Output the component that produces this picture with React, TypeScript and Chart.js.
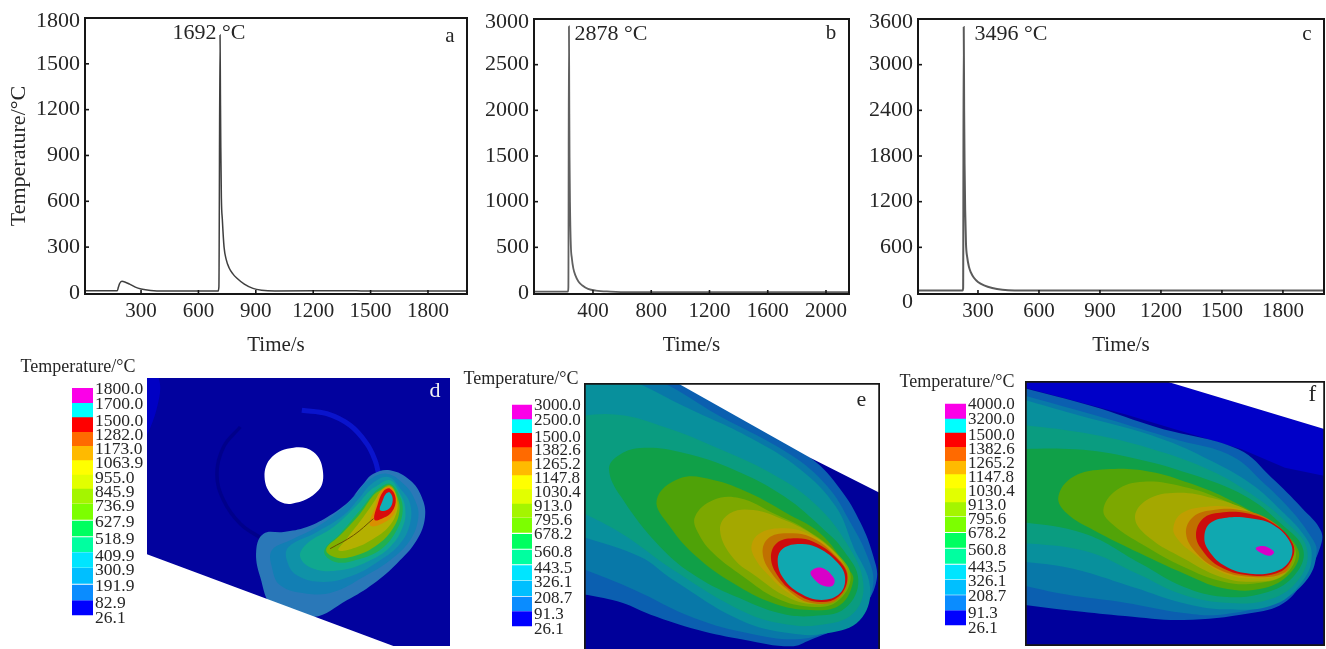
import React, { useEffect, useRef } from "react";
import { Chart, registerables } from "chart.js";

Chart.register(...registerables);

type Pair = [number, number];

// ---------- temperature histories (time s, temperature °C) ----------
const historyA: Pair[] = [[7,15],[176,15],[181,35],[188,62],[200,76],[215,72],[240,58],[270,38],[300,26],[350,16],[420,12],[702,12],[707,40],[713,1689],[715,1300],[717,950],[720,620],[725,480],[734,300],[745,220],[760,165],[780,125],[800,98],[840,58],[885,30],[930,18],[1000,13],[1400,15],[1450,13],[2004,13]];
const historyB: Pair[] = [[-5,15],[228,15],[231,60],[235,2920],[237,2200],[239,1500],[242,1000],[248,520],[255,380],[265,270],[280,190],[300,125],[325,85],[366,45],[420,26],[520,16],[650,10],[2158,8]];
const historyC: Pair[] = [[5,32],[224,32],[227,60],[230,3495],[232,2400],[234,1700],[237,1100],[241,650],[247,470],[255,350],[265,270],[280,200],[300,145],[330,100],[370,65],[420,42],[480,34],[2002,32]];

const yTicksA = [0, 300, 600, 900, 1200, 1500, 1800];
const yTicksB = [0, 500, 1000, 1500, 2000, 2500, 3000];
const yTicksC = [0, 600, 1200, 1800, 2400, 3000, 3600];
const xTicksA = [300, 600, 900, 1200, 1500, 1800];
const xTicksB = [400, 800, 1200, 1600, 2000];
const xTicksC = [300, 600, 900, 1200, 1500, 1800];

// ---------- colour legends ----------
const legendLabelsD = ["1800.0","1700.0","1500.0","1282.0","1173.0","1063.9","955.0","845.9","736.9","627.9","518.9","409.9","300.9","191.9","82.9","26.1"];
const legendLabelsE = ["3000.0","2500.0","1500.0","1382.6","1265.2","1147.8","1030.4","913.0","795.6","678.2","560.8","443.5","326.1","208.7","91.3","26.1"];
const legendLabelsF = ["4000.0","3200.0","1500.0","1382.6","1265.2","1147.8","1030.4","913.0","795.6","678.2","560.8","443.5","326.1","208.7","91.3","26.1"];
const legendColors = ["#fb00e8","#00ffff","#ff0000","#ff6a00","#ffba00","#ffff00","#e2ff00","#a4f500","#7cff00","#00ff60","#00ffa0","#00e5ff","#00bfff","#0a8cff","#0000ff"];

// legend row layout, in the units of each legend's own axis
const legendBandsD: Pair[] = [[115,158],[158,201],[202,245],[245,287],[287,330],[330,373],[373,415],[415,460],[463,508],[513,558],[563,605],[608,652],[655,700],[705,750],[752,795]];
const legendTickPosD = [118,162,213,257,298,340,385,428,470,517,568,618,662,710,760,805];
const legendBandsE: Pair[] = [[135,177],[177,218],[219,261],[261,303],[303,345],[345,387],[387,430],[430,472],[475,517],[523,565],[570,612],[617,660],[663,707],[711,752],[755,798]];
const legendTickPosE = [138,182,232,272,314,355,398,440,483,525,578,625,667,715,765,808];
const legendBandsF: Pair[] = [[132,175],[175,217],[217,260],[260,302],[302,342],[342,384],[384,426],[426,468],[471,515],[520,562],[567,610],[615,657],[660,703],[707,750],[752,795]];
const legendTickPosF = [135,178,228,268,310,352,395,436,478,522,573,622,665,710,762,805];

// ---------- temperature fields: isotherm outlines ----------
type Region = { color: string; pts: Pair[]; line?: number; straight?: boolean };

const heatOffsetD: Pair = [720, 330];
const heatD: Region[] = [
  { color: "#2a78b8", pts: [[370,70],[400,40],[450,30],[510,60],[545,110],[555,170],[530,240],[470,310],[400,370],[320,420],[220,470],[100,440],[60,350],[48,270],[70,220],[130,215],[200,200],[270,165],[330,120]] },
  { color: "#127fb4", pts: [[385,60],[440,40],[495,75],[525,120],[535,170],[510,240],[450,300],[370,350],[280,395],[200,400],[120,375],[95,320],[95,270],[150,240],[230,200],[300,150],[350,100]] },
  { color: "#0f92a8", pts: [[395,70],[445,50],[485,90],[510,130],[510,190],[480,250],[420,300],[340,345],[250,365],[170,345],[140,300],[145,260],[230,215],[310,165],[360,110]] },
  { color: "#10a890", pts: [[405,80],[450,60],[480,100],[495,140],[490,195],[450,260],[380,305],[300,330],[220,325],[180,290],[200,250],[280,200],[350,135],[385,95]] },
  { color: "#20b050", pts: [[415,85],[450,70],[478,105],[488,150],[472,205],[425,265],[350,298],[285,305],[252,272],[300,220],[360,150],[395,105]] },
  { color: "#80b000", pts: [[420,90],[450,75],[472,110],[478,155],[455,210],[410,255],[350,285],[290,292],[258,268],[300,225],[360,160],[400,105]] },
  { color: "#b4b000", pts: [[425,90],[452,80],[470,115],[470,155],[445,200],[400,235],[345,262],[295,270],[320,235],[370,170],[405,120]] },
  { color: "#d89000", pts: [[425,90],[452,80],[470,115],[462,160],[425,190],[390,195],[405,140]] },
  { color: "#6b5000", line: 1, pts: [[270,265],[340,225],[400,175]] },
  { color: "#d80c0c", pts: [[430,93],[450,85],[467,115],[455,155],[425,175],[403,178],[412,135]] },
  { color: "#10b0b8", pts: [[438,100],[450,97],[458,120],[447,145],[420,150],[428,120]] },
];

const fieldD: Region[] = [
  { color: "#02029e", straight: true, pts: [[440,83],[1350,83],[1350,887],[440,887],[440,83]] },
  { color: "#0000c4", pts: [[430,70],[475,83],[468,180],[430,260]] },
  { color: "#0a14cc", line: 5, pts: [[905,180],[980,190],[1050,225],[1100,280],[1125,330],[1135,368]] },
  { color: "#00008a", line: 3.5, pts: [[790,568],[720,520],[670,450],[650,370],[670,290],[720,230]] },
  { color: "#ffffff", pts: [[880,292],[940,305],[968,360],[955,420],[875,460],[820,440],[793,380],[815,320]] },
  ...heatD.map((r) => ({ ...r, pts: r.pts.map(([x, y]): Pair => [x + heatOffsetD[0], y + heatOffsetD[1]]) })),
  { color: "#ffffff", straight: true, pts: [[440,612],[1180,887],[440,887],[440,612]] },
];

const fieldE: Region[] = [
  { color: "#00009a", straight: true, pts: [[0,0],[888,0],[888,810],[0,810],[0,0]] },
  { color: "#0b5fb0", pts: [[-120,-120],[290,-30],[680,225],[770,320],[830,420],[868,520],[878,590],[840,670],[770,730],[680,770],[620,790],[480,770],[340,740],[200,695],[100,655],[-60,625],[-120,615]] },
  { color: "#0878a8", pts: [[-120,-120],[215,-10],[400,95],[620,215],[730,310],[800,420],[850,520],[868,600],[835,680],[750,735],[650,768],[500,752],[330,705],[150,620],[-60,535],[-120,510]] },
  { color: "#08909c", pts: [[-120,-120],[150,-5],[300,70],[500,165],[650,260],[755,370],[808,491],[858,611],[828,711],[728,751],[618,751],[468,711],[268,591],[168,521],[-60,440],[-120,400]] },
  { color: "#0a9c80", pts: [[-120,115],[-60,105],[100,95],[250,135],[400,195],[560,270],[690,360],[788,481],[838,601],[808,691],[708,726],[588,721],[468,681],[268,561],[110,450],[-60,360],[-120,320]] },
  { color: "#10a048", pts: [[75,260],[100,220],[170,195],[300,210],[450,260],[600,340],[720,440],[778,501],[823,591],[783,676],[688,699],[588,691],[468,646],[338,581],[228,491],[110,340]] },
  { color: "#4fa208", pts: [[218,351],[288,286],[388,291],[498,331],[608,391],[708,451],[788,551],[808,591],[768,666],[678,681],[568,661],[448,601],[338,521],[258,431]] },
  { color: "#7ca800", pts: [[333,401],[388,351],[468,346],[568,391],[668,441],[758,511],[800,581],[758,656],[678,671],[578,646],[478,581],[388,511],[343,451]] },
  { color: "#a4a800", pts: [[408,441],[438,391],[508,381],[588,406],[688,456],[768,526],[793,586],[753,651],[678,663],[598,636],[518,581],[448,526]] },
  { color: "#c09e00", pts: [[503,486],[528,451],[588,436],[658,446],[738,496],[788,571],[758,646],[678,659],[608,626],[548,571],[513,526]] },
  { color: "#c07000", pts: [[536,511],[553,466],[608,451],[678,461],[758,521],[793,581],[758,651],[678,659],[618,626],[563,571]] },
  { color: "#cc0c0c", pts: [[561,526],[578,481],[628,466],[688,476],[758,526],[790,581],[763,641],[698,656],[628,626],[583,581]] },
  { color: "#10a8b0", pts: [[581,531],[598,496],[648,483],[698,493],[758,536],[783,581],[768,631],[713,651],[648,631],[598,586]] },
  { color: "#d800c8", pts: [[680,566],[713,554],[750,586],[746,608],[718,608],[693,591]] },
  { color: "#ffffff", straight: true, pts: [[280,0],[888,0],[888,330],[680,225],[280,0]] },
];

const fieldF: Region[] = [
  { color: "#00009c", straight: true, pts: [[0,0],[900,0],[900,795],[0,795],[0,0]] },
  { color: "#0000c8", straight: true, pts: [[0,0],[420,0],[900,145],[900,285],[780,260],[650,205],[300,100],[0,20],[0,0]] },
  { color: "#0b5fb0", pts: [[-120,-15],[-60,5],[200,75],[400,140],[640,205],[740,290],[830,380],[888,450],[885,500],[840,590],[775,667],[675,697],[475,717],[300,705],[150,690],[-60,665],[-120,660]] },
  { color: "#0878a8", pts: [[-120,15],[-60,28],[200,100],[450,175],[620,225],[720,310],[800,390],[860,470],[875,510],[850,590],[770,655],[600,700],[470,695],[300,665],[120,640],[-60,600],[-120,585]] },
  { color: "#08909c", pts: [[-120,25],[-60,40],[150,100],[400,170],[560,240],[680,310],[770,390],[835,460],[860,515],[840,590],[750,670],[600,685],[470,665],[330,620],[130,560],[-60,535],[-120,520]] },
  { color: "#0a9c80", pts: [[-120,122],[-60,126],[200,160],[400,210],[560,270],[680,340],[780,420],[845,500],[825,590],[735,655],[600,665],[470,640],[340,580],[180,510],[-60,480],[-120,465]] },
  { color: "#10a048", pts: [[-120,205],[-60,205],[150,205],[320,230],[500,280],[660,345],[770,430],[835,507],[805,587],[715,637],[595,647],[475,617],[345,547],[175,457],[-60,415],[-120,400]] },
  { color: "#52a408", pts: [[100,347],[145,287],[245,265],[375,272],[495,307],[615,357],[735,427],[820,507],[795,577],[715,622],[595,622],[475,577],[345,517],[205,447],[125,397]] },
  { color: "#7ca800", pts: [[235,387],[275,327],[355,302],[475,317],[595,357],[725,427],[810,502],[785,577],[695,607],[595,602],[475,557],[355,492],[265,432]] },
  { color: "#a4a800", pts: [[330,412],[365,357],[455,335],[565,352],[685,397],[795,477],[805,507],[775,582],[685,602],[585,587],[475,532],[375,472]] },
  { color: "#c09e00", pts: [[445,442],[470,397],[545,377],[635,382],[725,417],[800,482],[805,517],[775,577],[675,592],[585,572],[505,517],[460,477]] },
  { color: "#c07000", pts: [[483,457],[505,407],[565,387],[645,387],[735,417],[803,487],[805,527],[775,577],[675,587],[585,567],[515,517]] },
  { color: "#cc0c0c", pts: [[513,462],[535,412],[585,395],[665,397],[745,427],[803,487],[800,537],[755,577],[665,582],[585,557],[535,512]] },
  { color: "#10a8b0", pts: [[538,467],[555,427],[605,410],[675,412],[745,432],[797,487],[795,537],[750,572],[665,577],[595,552],[550,507]] },
  { color: "#d800c8", pts: [[692,502],[715,495],[747,512],[735,524],[710,517]] },
  { color: "#ffffff", straight: true, pts: [[420,0],[900,0],[900,145],[420,0]] },
];

// ---------- helpers ----------
const SERIF = '"Liberation Serif", "Times New Roman", serif';
const INK = "#262626";

type Note = { text: string; x: number; y: number; size: number; color?: string; px?: boolean };

function overlay(o: { notes: Note[]; frame?: number; yTicks?: number[]; tickFont?: number; zeroNudge?: number; ticks?: boolean }) {
  return {
    id: "overlay",
    afterDraw(chart: any) {
      const { ctx, chartArea: a, scales } = chart;
      ctx.save();
      if (o.frame) {
        ctx.strokeStyle = "#161616";
        ctx.lineWidth = o.frame;
        ctx.strokeRect(a.left, a.top, a.right - a.left, a.bottom - a.top);
      }
      if (o.ticks) {
        ctx.strokeStyle = "#161616";
        ctx.lineWidth = 1.6;
        for (const t of scales.x.ticks) {
          const p = scales.x.getPixelForValue(t.value);
          ctx.beginPath(); ctx.moveTo(p, a.bottom); ctx.lineTo(p, a.bottom - 4); ctx.stroke();
        }
        ctx.fillStyle = INK;
        ctx.font = `${o.tickFont}px ${SERIF}`;
        ctx.textAlign = "right";
        ctx.textBaseline = "middle";
        const top = Math.max(...(o.yTicks as number[]));
        for (const v of o.yTicks as number[]) {
          const p = scales.y.getPixelForValue(v);
          if (v !== top && v !== 0) {
            ctx.beginPath(); ctx.moveTo(a.left, p); ctx.lineTo(a.left + 4, p); ctx.stroke();
          }
          const nudge = v === top ? 3 : v === 0 ? o.zeroNudge ?? 0 : 0;
          ctx.fillText(String(v), a.left - 5, p + nudge);
        }
      }
      ctx.textAlign = "center";
      ctx.textBaseline = "middle";
      for (const n of o.notes) {
        ctx.fillStyle = n.color ?? INK;
        ctx.font = `${n.size}px ${SERIF}`;
        const x = n.px ? n.x : scales.x.getPixelForValue(n.x);
        const y = n.px ? n.y : scales.y.getPixelForValue(n.y);
        ctx.fillText(n.text, x, y);
      }
      ctx.restore();
    },
  };
}

function historyConfig(c: {
  data: Pair[]; xMin: number; xMax: number; yMin: number; yMax: number; xTicks: number[]; yTicks: number[];
  areaLeft: number; areaTop: number; areaRight: number; areaBottom: number; height: number; lineColor: string; lineWidth: number;
  yTitle?: string; notes: Note[]; zeroNudge?: number;
}) {
  return {
    type: "line",
    data: { datasets: [{ data: c.data.map(([x, y]) => ({ x, y })), borderColor: c.lineColor, borderWidth: c.lineWidth, pointRadius: 0, cubicInterpolationMode: "monotone", fill: false }] },
    options: {
      animation: false, responsive: false, devicePixelRatio: 1,
      layout: { padding: { top: c.areaTop, right: c.areaRight, left: 0, bottom: 0 } },
      plugins: { legend: { display: false }, tooltip: { enabled: false } },
      scales: {
        x: {
          type: "linear", min: c.xMin, max: c.xMax,
          grid: { display: false, drawTicks: false }, border: { display: false },
          afterBuildTicks: (s: any) => { s.ticks = c.xTicks.map((value) => ({ value })); },
          ticks: { color: INK, font: { family: SERIF, size: 21 }, padding: 5, autoSkip: false, maxRotation: 0, callback: (v: any) => String(v) },
          title: { display: true, text: "Time/s", color: INK, font: { family: SERIF, size: 21 }, padding: { top: 0, bottom: 2 } },
          afterFit: (s: any) => { s.height = c.height - c.areaBottom; },
        },
        y: {
          type: "linear", min: c.yMin, max: c.yMax,
          grid: { display: false, drawTicks: false }, border: { display: false },
          afterBuildTicks: (s: any) => { s.ticks = c.yTicks.map((value) => ({ value })); },
          ticks: { display: false },
          title: { display: !!c.yTitle, text: c.yTitle ?? "", color: INK, font: { family: SERIF, size: 22 }, padding: { top: 6, bottom: 0 } },
          afterFit: (s: any) => { s.width = c.areaLeft; },
        },
      },
    },
    plugins: [overlay({ notes: c.notes, frame: 2, ticks: true, yTicks: c.yTicks, tickFont: 22, zeroNudge: c.zeroNudge })],
  };
}

function fieldConfig(regions: Region[], xMin: number, xMax: number, yMin: number, yMax: number, notes: Note[], frame?: number) {
  // the first dataset is painted last, so the innermost isotherm comes first
  const datasets = [...regions].reverse().map((r) => {
    // closed outlines run once past their start so the smoothing has no seam
    const n = r.pts.length;
    const path = r.straight || r.line ? r.pts : [r.pts[n - 1], ...r.pts, r.pts[0], r.pts[1]];
    return {
      data: path.map(([x, y]) => ({ x, y })),
      showLine: true,
      pointRadius: 0,
      tension: r.straight ? 0 : 0.4,
      capBezierPoints: false,
      fill: r.line ? false : "shape",
      backgroundColor: r.color,
      borderColor: r.color,
      borderWidth: r.line ?? 0,
    };
  });
  return {
    type: "scatter",
    data: { datasets },
    options: {
      animation: false, responsive: false, devicePixelRatio: 1,
      layout: { padding: 0 },
      plugins: { legend: { display: false }, tooltip: { enabled: false } },
      scales: {
        x: { type: "linear", display: false, min: xMin, max: xMax },
        y: { type: "linear", display: false, min: yMin, max: yMax, reverse: true },
      },
    },
    plugins: [overlay({ notes, frame })],
  };
}

function legendConfig(c: { labels: string[]; bands: Pair[]; tickPos: number[]; barLeft: number; rightWidth: number; title: Note; fontSize: number }) {
  const yMin = 100, yMax = 831;
  return {
    type: "bar",
    data: {
      labels: ["T"],
      datasets: c.bands.map((b, i) => ({ data: [b], backgroundColor: legendColors[i], grouped: false, categoryPercentage: 1, barPercentage: 1 })),
    },
    options: {
      animation: false, responsive: false, devicePixelRatio: 1,
      layout: { padding: { left: c.barLeft, top: yMin / 3, right: 0, bottom: 0 } },
      plugins: { legend: { display: false }, tooltip: { enabled: false } },
      scales: {
        x: { display: false },
        y: {
          type: "linear", position: "right", min: yMin, max: yMax, reverse: true,
          grid: { display: false, drawTicks: false }, border: { display: false },
          afterBuildTicks: (s: any) => { s.ticks = c.tickPos.map((value) => ({ value })); },
          ticks: {
            color: INK, padding: 2, autoSkip: false, font: { family: SERIF, size: c.fontSize },
            callback: (v: any) => c.labels[c.tickPos.indexOf(v)] ?? "",
          },
          afterFit: (s: any) => { s.width = c.rightWidth; s.paddingTop = 0; s.paddingBottom = 0; },
        },
      },
    },
    plugins: [overlay({ notes: [c.title] })],
  };
}

// ---------- page ----------
const H = 360;
const panels: { left: number; top: number; width: number; height: number; cfg: any }[] = [
  { left: 0, top: 0, width: 480, height: H, cfg: historyConfig({
    data: historyA, xMin: 7, xMax: 2004, yMin: -7, yMax: 1800, xTicks: xTicksA, yTicks: yTicksA,
    areaLeft: 85, areaTop: 18, areaRight: 13, areaBottom: 294, height: H, lineColor: "#3f3f3f", lineWidth: 1.5,
    yTitle: "Temperature/°C",
    notes: [{ text: "1692 °C", x: 655, y: 1702, size: 22 }, { text: "a", x: 1915, y: 1682, size: 21 }],
  }) },
  { left: 480, top: 0, width: 380, height: H, cfg: historyConfig({
    data: historyB, xMin: -5, xMax: 2158, yMin: -11, yMax: 3000, xTicks: xTicksB, yTicks: yTicksB,
    areaLeft: 54, areaTop: 19, areaRight: 11, areaBottom: 294, height: H, lineColor: "#606060", lineWidth: 1.8,
    notes: [{ text: "2878 °C", x: 524, y: 2836, size: 22 }, { text: "b", x: 2034, y: 2836, size: 21 }],
  }) },
  { left: 860, top: 0, width: 466, height: H, cfg: historyConfig({
    data: historyC, xMin: 5, xMax: 2002, yMin: -13, yMax: 3600, xTicks: xTicksC, yTicks: yTicksC,
    areaLeft: 58, areaTop: 19, areaRight: 2, areaBottom: 294, height: H, lineColor: "#5a5a5a", lineWidth: 2, zeroNudge: 9,
    notes: [{ text: "3496 °C", x: 462, y: 3403, size: 22 }, { text: "c", x: 1918, y: 3403, size: 21 }],
  }) },
  { left: 147, top: 378, width: 303, height: 268, cfg: fieldConfig(fieldD, 440, 1350, 83, 887, [{ text: "d", x: 1305, y: 122, size: 22, color: "#f2f2f2" }]) },
  { left: 584, top: 383, width: 296, height: 270, cfg: fieldConfig(fieldE, 0, 888, 0, 810, [{ text: "e", x: 832, y: 52, size: 22 }], 3.5) },
  { left: 1025, top: 381, width: 300, height: 265, cfg: fieldConfig(fieldF, 0, 900, 0, 795, [{ text: "f", x: 862, y: 42, size: 23 }], 3.5) },
  { left: 0, top: 350, width: 146, height: 277, cfg: legendConfig({
    labels: legendLabelsD, bands: legendBandsD, tickPos: legendTickPosD, barLeft: 72, rightWidth: 53, fontSize: 17.5,
    title: { text: "Temperature/°C", x: 78, y: 17, size: 18, px: true },
  }) },
  { left: 455, top: 360, width: 129, height: 277, cfg: legendConfig({
    labels: legendLabelsE, bands: legendBandsE, tickPos: legendTickPosE, barLeft: 57, rightWidth: 52, fontSize: 17,
    title: { text: "Temperature/°C", x: 66, y: 19, size: 18, px: true },
  }) },
  { left: 890, top: 360, width: 135, height: 277, cfg: legendConfig({
    labels: legendLabelsF, bands: legendBandsF, tickPos: legendTickPosF, barLeft: 55, rightWidth: 59, fontSize: 17,
    title: { text: "Temperature/°C", x: 67, y: 22, size: 18, px: true },
  }) },
];

function Panel({ left, top, width, height, cfg }: (typeof panels)[number]) {
  const ref = useRef<HTMLCanvasElement>(null);
  useEffect(() => {
    const chart = new Chart(ref.current as HTMLCanvasElement, cfg);
    return () => chart.destroy();
  }, []);
  return (
    <canvas
      ref={ref}
      width={width}
      height={height}
      style={{ position: "absolute", left, top, width, height, filter: "blur(0.4px)" }}
    />
  );
}

export default function App() {
  return (
    <div style={{ position: "absolute", left: 0, top: 0, width: 1326, height: 649, overflow: "hidden", background: "#fff" }}>
      {panels.map((p, i) => (
        <Panel key={i} {...p} />
      ))}
    </div>
  );
}
